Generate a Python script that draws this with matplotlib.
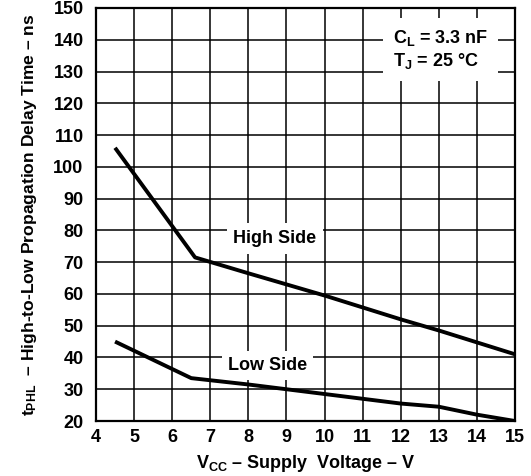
import matplotlib
matplotlib.use("Agg")
import matplotlib.pyplot as plt

plt.rcParams['font.family'] = ['Liberation Sans', 'DejaVu Sans']
plt.rcParams['font.weight'] = 'bold'
plt.rcParams['mathtext.fontset'] = 'custom'
plt.rcParams['mathtext.rm'] = 'Liberation Sans:bold'
plt.rcParams['mathtext.it'] = 'Liberation Sans:bold'
plt.rcParams['mathtext.bf'] = 'Liberation Sans:bold'

# Supply voltage (V) and propagation delay (ns)
high_vcc = [4.5, 6.6, 8, 10, 12, 13, 15]
high_delay = [106, 71.5, 66.5, 59.5, 52, 48.5, 41]
low_vcc = [4.5, 6.5, 8, 9, 10, 11, 12, 13, 14, 15]
low_delay = [45, 33.5, 31.5, 30, 28.5, 27, 25.5, 24.5, 22, 20]

x_ticks = list(range(4, 16))
y_ticks = list(range(20, 151, 10))

fig = plt.figure(figsize=(5.31, 4.76), dpi=100)
ax = fig.add_axes([0.1808, 0.1155, 0.7891, 0.8677])

ax.set_xlim(4, 15)
ax.set_ylim(20, 150)
ax.set_xticks(x_ticks)
ax.set_yticks(y_ticks)
ax.tick_params(length=0, labelsize=13)
ax.tick_params(axis='x', pad=6)
ax.tick_params(axis='y', pad=9)
for lbl in ax.get_xticklabels() + ax.get_yticklabels():
    lbl.set_fontweight('bold')
ax.grid(True, color='black', linewidth=1.1)
for sp in ax.spines.values():
    sp.set_linewidth(1.6)

# curves sit above the white label boxes so they are never clipped
ax.plot(high_vcc, high_delay, color='black', linewidth=2.8, solid_capstyle='butt', zorder=6)
ax.plot(low_vcc, low_delay, color='black', linewidth=2.8, solid_capstyle='butt', zorder=6)

box = dict(facecolor='white', edgecolor='none', pad=5)
ax.text(8.7, 77.5, 'High Side', ha='center', va='center', fontsize=13,
        fontweight='bold', bbox=box, zorder=5)
ax.text(8.5, 37.5, 'Low Side', ha='center', va='center', fontsize=13,
        fontweight='bold', bbox=dict(facecolor='white', edgecolor='none', pad=4), zorder=5)
ax.text(11.8, 137, '$\\mathrm{C_L}$ = 3.3 nF\n$\\mathrm{T_J}$ = 25 °C',
        ha='left', va='center', fontsize=13, fontweight='bold',
        linespacing=1.2, bbox=dict(facecolor='white', edgecolor='none', pad=7), zorder=5)

ax.set_xlabel('$\\mathrm{V_{CC}}$ – Supply  Voltage – V', fontsize=13,
              fontweight='bold', labelpad=5)
ax.set_ylabel('$\\mathrm{t_{PHL}}$  – High-to-Low Propagation Delay Time – ns',
              fontsize=12.6, fontweight='bold', labelpad=10)

fig.savefig('out.png', dpi=100)
